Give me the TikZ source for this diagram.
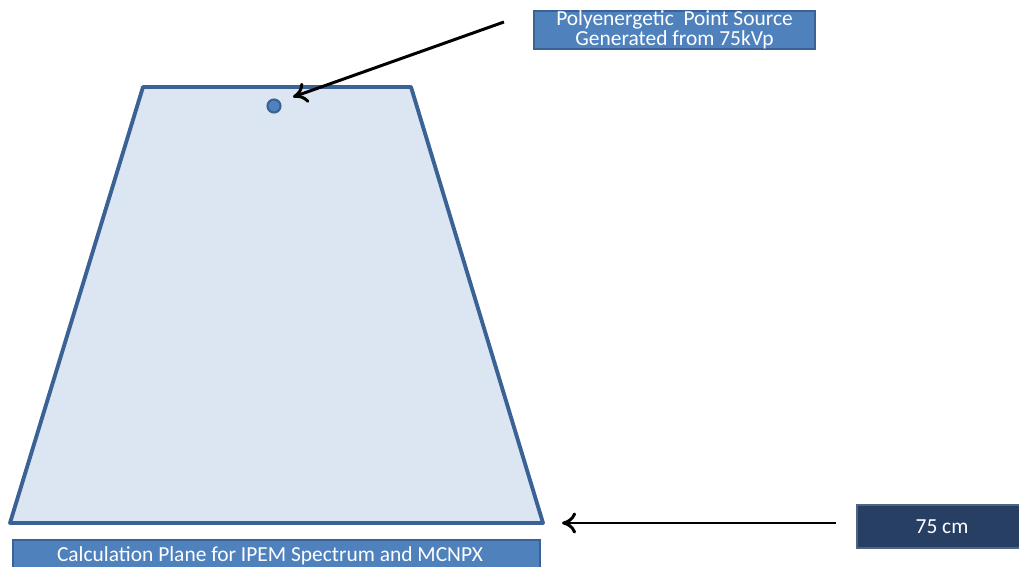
\documentclass[tikz,border=0pt]{standalone}
\usepackage{fontspec}
\setmainfont{Carlito}
\usetikzlibrary{arrows.meta}
\definecolor{haz}{HTML}{DCE6F2}
\definecolor{borde}{HTML}{3A6294}
\definecolor{caja}{HTML}{4F81BD}
\definecolor{marino}{HTML}{263F63}
\begin{document}
\begin{tikzpicture}[
    x=0.02cm, y=-0.02cm,
    etiqueta/.style={draw=borde, line width=1.2pt, fill=caja, text=white, font=\fontsize{12.2}{11.4}\selectfont, align=center, inner sep=0pt},
    flecha/.style={-{To[length=8pt,width=12pt]}, line width=1.7pt, black}
  ]
    \useasboundingbox (0,0) rectangle (1019,567);
    \begin{scope}
    \clip (0,0) rectangle (1019,567);
    % haz de rayos
    \draw[borde, fill=haz, line width=2.2pt, line join=round] (143,87) -- (411,87) -- (543,523) -- (10,523) -- cycle;
    \node[circle, draw=borde, fill=caja, line width=1.2pt, minimum size=0.26cm, inner sep=0pt] (punto) at (274,106) {};
    \coordinate (plano) at (543,523);

    \node[etiqueta, minimum width=5.62cm, minimum height=0.76cm] (fuente) at (674.5,30) {Polyenergetic\ \ Point Source\\Generated from 75kVp};
    \node[etiqueta, minimum width=10.54cm, minimum height=0.8cm, anchor=north west] (calculo) at (12,539) {};
    \node[text=white, font=\fontsize{12.2}{13}\selectfont] (textocalculo) at (270,556) {Calculation Plane for IPEM Spectrum and MCNPX};
    \node[etiqueta, fill=marino, draw=marino!80!white, minimum width=3.4cm, minimum height=0.86cm, anchor=west] (distancia) at (856,526.5) {75 cm};
    \end{scope}

    \draw[flecha] (fuente.west) ++(-29,-8) -- ([shift={(19,-9)}]punto.center);
    \draw[flecha] ([shift={(-20,-3.5)}]distancia.west) -- ([shift={(19,0)}]plano);
\end{tikzpicture}
\end{document}
